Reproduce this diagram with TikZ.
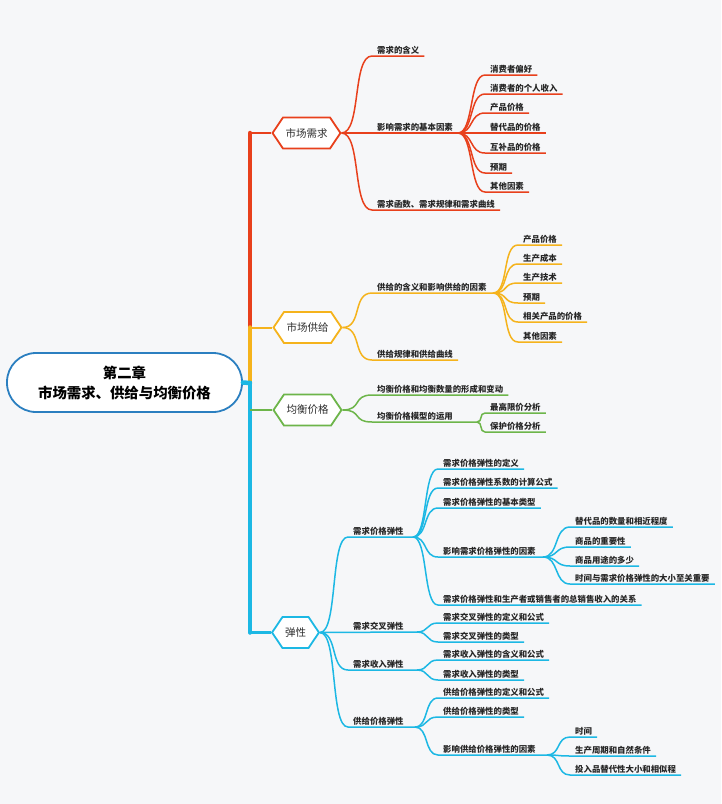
\documentclass[tikz,border=0pt]{standalone}
\usepackage{fontspec}
\setmainfont{Noto Sans CJK SC}
\usetikzlibrary{shapes.symbols}
\definecolor{bg}{HTML}{F6F7F9}
\definecolor{xred}{HTML}{E8401C}
\definecolor{xorange}{HTML}{F5B31C}
\definecolor{xgreen}{HTML}{6DB54A}
\definecolor{xcyan}{HTML}{1CB8E4}
\definecolor{xblue}{HTML}{2B7FC0}
\begin{document}
\begin{tikzpicture}[x=1pt,y=-1pt,
    every node/.style={font=\bfseries\fontsize{8.4}{10}\selectfont,text=black!85},
    leaf/.style={anchor=south west,inner xsep=5pt,inner ysep=1.5pt},
    hex/.style={signal,signal to=west and east,signal pointer angle=112,draw,
      line width=1.8pt,fill=white,minimum height=31pt,inner xsep=2.5pt,
      font=\fontsize{10.5}{12}\selectfont,text=black!82},
    link/.style={line width=1.5pt},
    trunk/.style={line width=4.5pt,line cap=round}]

    \fill[bg] (0,0) rectangle (721,804);
    \useasboundingbox (0,0) rectangle (721,804);

    % Root and trunk
    \node[draw=xblue,line width=1.8pt,rounded corners=29pt,fill=white,
      minimum width=235pt,minimum height=59pt,align=center,
      font=\bfseries\fontsize{14.4}{20}\selectfont,text=black] (root) at (124.5,382.5)
      {第二章\\市场需求、供给与均衡价格};
    \coordinate (tr) at (250,383);
    \node[hex,draw=xred] (xq) at (306.5,133) {市场需求};
    \node[hex,draw=xorange] (gj) at (307.5,327.5) {市场供给};
    \node[hex,draw=xgreen] (jh) at (307.5,410) {均衡价格};
    \node[hex,draw=xcyan] (tx) at (295.5,632.5) {弹性};
    \draw[trunk,xred] (tr) -- (tr |- xq.west);
    \draw[trunk,xorange] (tr) -- (tr |- gj.west);
    \draw[trunk,xgreen] (tr) -- (tr |- jh.west);
    \draw[trunk,xcyan] (tr) -- (tr |- tx.west);
    \draw[trunk,xcyan] (root.east) -- (tr);
    \draw[xred,line width=2pt] (tr |- xq.west) -- (xq.west);
    \draw[xorange,line width=2pt] (tr |- gj.west) -- (gj.west);
    \draw[xgreen,line width=2pt] (tr |- jh.west) -- (jh.west);
    \draw[xcyan,line width=2.4pt] (tr |- tx.west) -- (tx.west);

    % 市场需求
    \node[leaf] (xq1) at (372,56) {需求的含义};
    \node[leaf] (xq2) at (372,133) {影响需求的基本因素};
    \node[leaf] (xq3) at (372,210) {需求函数、需求规律和需求曲线};
    \coordinate (xq2b) at (458,133);
    \node[leaf] (xq2a) at (485,75) {消费者偏好};
    \node[leaf] (xq2c) at (485,94) {消费者的个人收入};
    \node[leaf] (xq2d) at (485,113) {产品价格};
    \node[leaf] (xq2e) at (485,133) {替代品的价格};
    \node[leaf] (xq2f) at (485,153) {互补品的价格};
    \node[leaf] (xq2g) at (485,173) {预期};
    \node[leaf] (xq2h) at (485,192) {其他因素};
    \draw[link,xred] (xq.east) .. controls +(20,0) and +(-20,0) .. (xq1.south west) -- (xq1.south east);
    \draw[link,xred] (xq.east) .. controls +(20,0) and +(-20,0) .. (xq2.south west) -- (xq2b);
    \draw[link,xred] (xq.east) .. controls +(20,0) and +(-20,0) .. (xq3.south west) -- (xq3.south east);
    \draw[link,xred] (xq2b) .. controls +(16,0) and +(-16,0) .. (xq2a.south west) -- (xq2a.south east);
    \draw[link,xred] (xq2b) .. controls +(16,0) and +(-16,0) .. (xq2c.south west) -- (xq2c.south east);
    \draw[link,xred] (xq2b) .. controls +(16,0) and +(-16,0) .. (xq2d.south west) -- (xq2d.south east);
    \draw[link,xred] (xq2b) .. controls +(16,0) and +(-16,0) .. (xq2e.south west) -- (xq2e.south east);
    \draw[link,xred] (xq2b) .. controls +(16,0) and +(-16,0) .. (xq2f.south west) -- (xq2f.south east);
    \draw[link,xred] (xq2b) .. controls +(16,0) and +(-16,0) .. (xq2g.south west) -- (xq2g.south east);
    \draw[link,xred] (xq2b) .. controls +(16,0) and +(-16,0) .. (xq2h.south west) -- (xq2h.south east);

    % 市场供给
    \node[leaf] (gj1) at (372,293) {供给的含义和影响供给的因素};
    \node[leaf] (gj2) at (372,360) {供给规律和供给曲线};
    \coordinate (gj1b) at (493,293);
    \node[leaf] (gj1a) at (518,245) {产品价格};
    \node[leaf] (gj1c) at (518,264) {生产成本};
    \node[leaf] (gj1d) at (518,283) {生产技术};
    \node[leaf] (gj1e) at (518,303) {预期};
    \node[leaf] (gj1f) at (518,322) {相关产品的价格};
    \node[leaf] (gj1g) at (518,342) {其他因素};
    \draw[link,xorange] (gj.east) .. controls +(20,0) and +(-20,0) .. (gj1.south west) -- (gj1b);
    \draw[link,xorange] (gj.east) .. controls +(20,0) and +(-20,0) .. (gj2.south west) -- (gj2.south east);
    \draw[link,xorange] (gj1b) .. controls +(16,0) and +(-16,0) .. (gj1a.south west) -- (gj1a.south east);
    \draw[link,xorange] (gj1b) .. controls +(16,0) and +(-16,0) .. (gj1c.south west) -- (gj1c.south east);
    \draw[link,xorange] (gj1b) .. controls +(16,0) and +(-16,0) .. (gj1d.south west) -- (gj1d.south east);
    \draw[link,xorange] (gj1b) .. controls +(16,0) and +(-16,0) .. (gj1e.south west) -- (gj1e.south east);
    \draw[link,xorange] (gj1b) .. controls +(16,0) and +(-16,0) .. (gj1f.south west) -- (gj1f.south east);
    \draw[link,xorange] (gj1b) .. controls +(16,0) and +(-16,0) .. (gj1g.south west) -- (gj1g.south east);

    % 均衡价格
    \node[leaf] (jh1) at (372,395) {均衡价格和均衡数量的形成和变动};
    \node[leaf] (jh2) at (372,422) {均衡价格模型的运用};
    \coordinate (jh2b) at (477,422);
    \node[leaf] (jh2a) at (485,413) {最高限价分析};
    \node[leaf] (jh2c) at (485,432) {保护价格分析};
    \draw[link,xgreen] (jh.east) .. controls +(20,0) and +(-20,0) .. (jh1.south west) -- (jh1.south east);
    \draw[link,xgreen] (jh.east) .. controls +(20,0) and +(-20,0) .. (jh2.south west) -- (jh2b);
    \draw[link,xgreen] (jh2b) .. controls +(6,0) and +(-6,0) .. (jh2a.south west) -- (jh2a.south east);
    \draw[link,xgreen] (jh2b) .. controls +(6,0) and +(-6,0) .. (jh2c.south west) -- (jh2c.south east);

    % 弹性
    \node[leaf] (tx1) at (348,537) {需求价格弹性};
    \node[leaf] (tx2) at (348,632) {需求交叉弹性};
    \node[leaf] (tx3) at (348,670) {需求收入弹性};
    \node[leaf] (tx4) at (348,727) {供给价格弹性};
    \coordinate (tx1b) at (413,537);
    \coordinate (tx2b) at (417,632);
    \coordinate (tx3b) at (417,670);
    \coordinate (tx4b) at (415,727);
    \draw[link,xcyan] (tx.east) .. controls +(18,0) and +(-18,0) .. (tx1.south west) -- (tx1b);
    \draw[link,xcyan] (tx.east) -- (tx2b);
    \draw[link,xcyan] (tx.east) .. controls +(18,0) and +(-18,0) .. (tx3.south west) -- (tx3b);
    \draw[link,xcyan] (tx.east) .. controls +(18,0) and +(-18,0) .. (tx4.south west) -- (tx4b);

    % 需求价格弹性
    \node[leaf] (tx1a) at (438,469) {需求价格弹性的定义};
    \node[leaf] (tx1c) at (438,488) {需求价格弹性系数的计算公式};
    \node[leaf] (tx1d) at (438,508) {需求价格弹性的基本类型};
    \node[leaf] (tx1e) at (438,557) {影响需求价格弹性的因素};
    \node[leaf] (tx1f) at (438,605) {需求价格弹性和生产者或销售者的总销售收入的关系};
    \coordinate (tx1eb) at (543,557);
    \node[leaf] (tx1ea) at (570,527) {替代品的数量和相近程度};
    \node[leaf] (tx1ec) at (570,547) {商品的重要性};
    \node[leaf] (tx1ed) at (570,566) {商品用途的多少};
    \node[leaf] (tx1ee) at (570,584) {时间与需求价格弹性的大小至关重要};
    \draw[link,xcyan] (tx1b) .. controls +(15,0) and +(-15,0) .. (tx1a.south west) -- (tx1a.south east);
    \draw[link,xcyan] (tx1b) .. controls +(15,0) and +(-15,0) .. (tx1c.south west) -- (tx1c.south east);
    \draw[link,xcyan] (tx1b) .. controls +(15,0) and +(-15,0) .. (tx1d.south west) -- (tx1d.south east);
    \draw[link,xcyan] (tx1b) .. controls +(15,0) and +(-15,0) .. (tx1e.south west) -- (tx1eb);
    \draw[link,xcyan] (tx1b) .. controls +(15,0) and +(-15,0) .. (tx1f.south west) -- (tx1f.south east);
    \draw[link,xcyan] (tx1eb) .. controls +(16,0) and +(-16,0) .. (tx1ea.south west) -- (tx1ea.south east);
    \draw[link,xcyan] (tx1eb) .. controls +(16,0) and +(-16,0) .. (tx1ec.south west) -- (tx1ec.south east);
    \draw[link,xcyan] (tx1eb) .. controls +(16,0) and +(-16,0) .. (tx1ed.south west) -- (tx1ed.south east);
    \draw[link,xcyan] (tx1eb) .. controls +(16,0) and +(-16,0) .. (tx1ee.south west) -- (tx1ee.south east);

    % 需求交叉弹性, 需求收入弹性
    \node[leaf] (tx2a) at (438,623) {需求交叉弹性的定义和公式};
    \node[leaf] (tx2c) at (438,642) {需求交叉弹性的类型};
    \node[leaf] (tx3a) at (438,660) {需求收入弹性的含义和公式};
    \node[leaf] (tx3c) at (438,680) {需求收入弹性的类型};
    \draw[link,xcyan] (tx2b) .. controls +(12,0) and +(-12,0) .. (tx2a.south west) -- (tx2a.south east);
    \draw[link,xcyan] (tx2b) .. controls +(12,0) and +(-12,0) .. (tx2c.south west) -- (tx2c.south east);
    \draw[link,xcyan] (tx3b) .. controls +(12,0) and +(-12,0) .. (tx3a.south west) -- (tx3a.south east);
    \draw[link,xcyan] (tx3b) .. controls +(12,0) and +(-12,0) .. (tx3c.south west) -- (tx3c.south east);

    % 供给价格弹性
    \node[leaf] (tx4a) at (438,698) {供给价格弹性的定义和公式};
    \node[leaf] (tx4c) at (438,717) {供给价格弹性的类型};
    \node[leaf] (tx4d) at (438,755) {影响供给价格弹性的因素};
    \coordinate (tx4db) at (547,755);
    \node[leaf] (tx4da) at (570,737) {时间};
    \node[leaf] (tx4dc) at (570,756) {生产周期和自然条件};
    \node[leaf] (tx4dd) at (570,775) {投入品替代性大小和相似程};
    \draw[link,xcyan] (tx4b) .. controls +(14,0) and +(-14,0) .. (tx4a.south west) -- (tx4a.south east);
    \draw[link,xcyan] (tx4b) .. controls +(14,0) and +(-14,0) .. (tx4c.south west) -- (tx4c.south east);
    \draw[link,xcyan] (tx4b) .. controls +(14,0) and +(-14,0) .. (tx4d.south west) -- (tx4db);
    \draw[link,xcyan] (tx4db) .. controls +(14,0) and +(-14,0) .. (tx4da.south west) -- (tx4da.south east);
    \draw[link,xcyan] (tx4db) .. controls +(14,0) and +(-14,0) .. (tx4dc.south west) -- (tx4dc.south east);
    \draw[link,xcyan] (tx4db) .. controls +(14,0) and +(-14,0) .. (tx4dd.south west) -- (tx4dd.south east);
  \end{tikzpicture}
\end{document}
